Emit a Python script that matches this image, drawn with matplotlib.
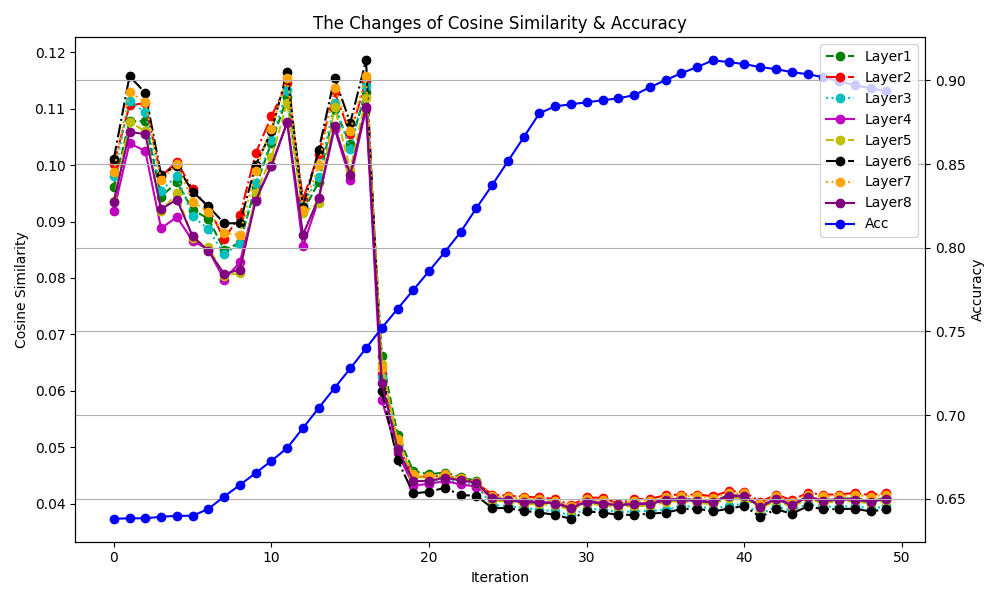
import numpy as np
import matplotlib
matplotlib.use('Agg')
import matplotlib.pyplot as plt

iters = list(range(50))

layer1 = [0.0962, 0.1078, 0.1078, 0.0944, 0.0970, 0.0921, 0.0905, 0.0850, 0.0862, 0.0962,
          0.1040, 0.1120, 0.0918, 0.0970, 0.1100, 0.1037, 0.1130, 0.0662, 0.0522, 0.0457,
          0.0452, 0.0455, 0.0447, 0.0440, 0.0412, 0.0408, 0.0405, 0.0404, 0.0402, 0.0393,
          0.0405, 0.0402, 0.0399, 0.0401, 0.0401, 0.0408, 0.0409, 0.0406, 0.0404, 0.0415,
          0.0414, 0.0396, 0.0410, 0.0399, 0.0412, 0.0406, 0.0409, 0.0409, 0.0405, 0.0410]
layer2 = [0.1002, 0.1106, 0.1110, 0.0980, 0.1006, 0.0957, 0.0925, 0.0869, 0.0911, 0.1021,
          0.1087, 0.1145, 0.0940, 0.1020, 0.1130, 0.1055, 0.1150, 0.0630, 0.0505, 0.0448,
          0.0447, 0.0450, 0.0443, 0.0437, 0.0416, 0.0414, 0.0412, 0.0411, 0.0408, 0.0397,
          0.0411, 0.0410, 0.0400, 0.0408, 0.0408, 0.0415, 0.0416, 0.0416, 0.0413, 0.0422,
          0.0421, 0.0403, 0.0416, 0.0406, 0.0419, 0.0416, 0.0416, 0.0419, 0.0415, 0.0419]
layer3 = [0.0980, 0.1113, 0.1094, 0.0955, 0.0981, 0.0909, 0.0887, 0.0842, 0.0861, 0.0968,
          0.1044, 0.1133, 0.0930, 0.0979, 0.1110, 0.1028, 0.1141, 0.0625, 0.0500, 0.0440,
          0.0440, 0.0443, 0.0437, 0.0432, 0.0397, 0.0396, 0.0392, 0.0389, 0.0386, 0.0379,
          0.0391, 0.0389, 0.0385, 0.0386, 0.0387, 0.0389, 0.0395, 0.0395, 0.0391, 0.0396,
          0.0400, 0.0381, 0.0395, 0.0387, 0.0399, 0.0395, 0.0394, 0.0396, 0.0391, 0.0395]
layer4 = [0.0919, 0.1039, 0.1025, 0.0888, 0.0908, 0.0866, 0.0850, 0.0797, 0.0828, 0.0940,
          0.0999, 0.1075, 0.0856, 0.0940, 0.1065, 0.0974, 0.1100, 0.0583, 0.0490, 0.0432,
          0.0435, 0.0440, 0.0434, 0.0430, 0.0411, 0.0407, 0.0404, 0.0403, 0.0401, 0.0394,
          0.0405, 0.0401, 0.0398, 0.0400, 0.0401, 0.0407, 0.0409, 0.0405, 0.0403, 0.0414,
          0.0414, 0.0396, 0.0409, 0.0399, 0.0412, 0.0406, 0.0408, 0.0408, 0.0404, 0.0409]
layer5 = [0.0937, 0.1077, 0.1060, 0.0919, 0.0950, 0.0870, 0.0855, 0.0804, 0.0809, 0.0950,
          0.1014, 0.1110, 0.0915, 0.0933, 0.1104, 0.0992, 0.1119, 0.0648, 0.0510, 0.0447,
          0.0446, 0.0448, 0.0442, 0.0436, 0.0406, 0.0403, 0.0399, 0.0399, 0.0397, 0.0389,
          0.0400, 0.0397, 0.0394, 0.0396, 0.0396, 0.0403, 0.0404, 0.0401, 0.0399, 0.0410,
          0.0410, 0.0391, 0.0405, 0.0394, 0.0408, 0.0401, 0.0404, 0.0404, 0.0400, 0.0405]
layer6 = [0.1011, 0.1158, 0.1128, 0.0983, 0.0999, 0.0953, 0.0927, 0.0897, 0.0897, 0.1000,
          0.1060, 0.1165, 0.0925, 0.1027, 0.1155, 0.1075, 0.1186, 0.0599, 0.0477, 0.0418,
          0.0421, 0.0428, 0.0415, 0.0414, 0.0392, 0.0392, 0.0387, 0.0384, 0.0380, 0.0373,
          0.0386, 0.0384, 0.0380, 0.0380, 0.0382, 0.0384, 0.0390, 0.0391, 0.0386, 0.0391,
          0.0396, 0.0376, 0.0390, 0.0382, 0.0395, 0.0390, 0.0390, 0.0391, 0.0386, 0.0390]
layer7 = [0.0988, 0.1129, 0.1112, 0.0974, 0.1002, 0.0935, 0.0917, 0.0879, 0.0877, 0.0990,
          0.1065, 0.1155, 0.0921, 0.1000, 0.1137, 0.1061, 0.1158, 0.0640, 0.0514, 0.0452,
          0.0449, 0.0452, 0.0445, 0.0439, 0.0413, 0.0411, 0.0409, 0.0408, 0.0405, 0.0395,
          0.0408, 0.0407, 0.0398, 0.0405, 0.0405, 0.0412, 0.0413, 0.0413, 0.0410, 0.0419,
          0.0418, 0.0400, 0.0413, 0.0403, 0.0416, 0.0413, 0.0413, 0.0416, 0.0412, 0.0416]
layer8 = [0.0935, 0.1059, 0.1055, 0.0922, 0.0939, 0.0874, 0.0848, 0.0807, 0.0815, 0.0937,
          0.0999, 0.1077, 0.0877, 0.0942, 0.1070, 0.0983, 0.1104, 0.0614, 0.0497, 0.0440,
          0.0440, 0.0446, 0.0441, 0.0437, 0.0409, 0.0406, 0.0402, 0.0402, 0.0400, 0.0392,
          0.0403, 0.0400, 0.0397, 0.0399, 0.0399, 0.0406, 0.0407, 0.0404, 0.0402, 0.0413,
          0.0413, 0.0394, 0.0408, 0.0397, 0.0411, 0.0404, 0.0407, 0.0407, 0.0403, 0.0408]

acc = [0.6381, 0.6384, 0.6384, 0.6393, 0.6399, 0.6399, 0.6440, 0.6514, 0.6583, 0.6655,
       0.6727, 0.6804, 0.6923, 0.7043, 0.7162, 0.7279, 0.7400, 0.7521, 0.7635, 0.7748,
       0.7861, 0.7975, 0.8094, 0.8237, 0.8374, 0.8517, 0.8660, 0.8804, 0.8845, 0.8857,
       0.8869, 0.8881, 0.8893, 0.8911, 0.8959, 0.9001, 0.9043, 0.9079, 0.9120, 0.9109,
       0.9097, 0.9079, 0.9067, 0.9049, 0.9037, 0.9019, 0.8995, 0.8971, 0.8953, 0.8935]

layers = [layer1, layer2, layer3, layer4, layer5, layer6, layer7, layer8]
labels = ['Layer1', 'Layer2', 'Layer3', 'Layer4', 'Layer5', 'Layer6', 'Layer7', 'Layer8']
colors = ['g', 'r', 'c', 'm', 'y', 'k', 'orange', 'purple']
styles = ['--', '-.', ':', '-', '--', '-.', ':', '-']

fig, ax = plt.subplots(figsize=(10, 6), dpi=100)
lines = []
for vals, lab, col, ls in zip(layers, labels, colors, styles):
    l, = ax.plot(iters, vals, color=col, linestyle=ls, marker='o', label=lab)
    lines.append(l)
ax.set_xlabel('Iteration')
ax.set_ylabel('Cosine Similarity')
ax.set_title('The Changes of Cosine Similarity & Accuracy')

ax2 = ax.twinx()
l, = ax2.plot(iters, acc, color='b', marker='o', label='Acc')
lines.append(l)
ax2.set_ylabel('Accuracy')
ax2.grid(True)
ax2.legend(lines, [x.get_label() for x in lines], loc='upper right')

fig.tight_layout()
fig.savefig('out.png')
